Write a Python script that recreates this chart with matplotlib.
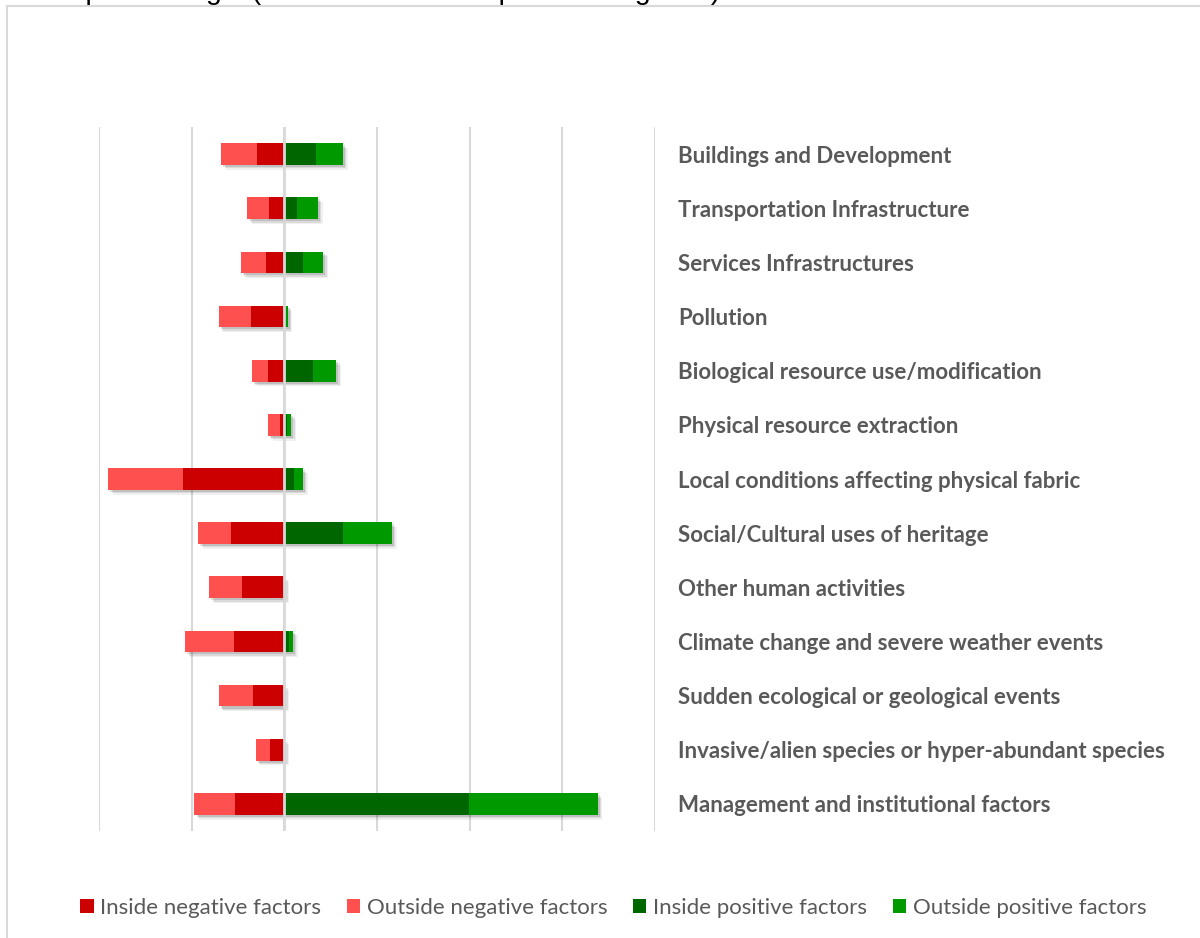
import matplotlib
matplotlib.use("Agg")
import matplotlib.pyplot as plt
import matplotlib.patheffects as pe
from matplotlib.patches import Patch, Rectangle
import numpy as np

# Threat categories (top to bottom)
categories = [
    "Buildings and Development",
    "Transportation Infrastructure",
    "Services Infrastructures",
    "Pollution",
    "Biological resource use/modification",
    "Physical resource extraction",
    "Local conditions affecting physical fabric",
    "Social/Cultural uses of heritage",
    "Other human activities",
    "Climate change and severe weather events",
    "Sudden ecological or geological events",
    "Invasive/alien species or hyper-abundant species",
    "Management and institutional factors",
]

# Values (one gridline = 10)
inside_neg = [2.9, 1.7, 2.0, 3.6, 1.8, 0.5, 10.9, 5.8, 4.6, 5.4, 3.4, 1.6, 5.3]
outside_neg = [3.9, 2.3, 2.7, 3.5, 1.7, 1.3, 8.1, 3.5, 3.5, 5.3, 3.7, 1.5, 4.4]
inside_pos = [3.4, 1.4, 2.0, 0.15, 3.1, 0.3, 1.0, 6.3, 0, 0.5, 0, 0, 19.9]
outside_pos = [2.9, 2.2, 2.2, 0.2, 2.5, 0.45, 1.0, 5.3, 0, 0.4, 0, 0, 13.9]

series_names = ["Inside negative factors", "Outside negative factors",
                "Inside positive factors", "Outside positive factors"]
colors = ["#CC0000", "#FF5050", "#006600", "#009900"]

text_gray = "#595959"
grid_gray = "#D9D9D9"

fig = plt.figure(figsize=(12, 9.38), dpi=100)
ax = fig.add_axes([99 / 1200, 107 / 938, 556 / 1200, 704 / 938])

y = np.arange(len(categories))
in_neg = -np.array(inside_neg)
out_neg = -np.array(outside_neg)
in_pos = np.array(inside_pos)
out_pos = np.array(outside_pos)

# (width, left) per series
segments = [
    (in_neg, np.zeros(len(y))),
    (out_neg, in_neg),
    (in_pos, np.zeros(len(y))),
    (out_pos, in_pos),
]

# soft drop shadow pass, drawn first so it sits under all segments
shadow = [pe.SimplePatchShadow(offset=(o, -o), shadow_rgbFace="black", alpha=a)
          for o, a in [(3.5, 0.06), (2.5, 0.09), (1.5, 0.12)]]
for w, left in segments:
    ax.barh(y, w, left=left, height=0.4, color="none", zorder=2,
            path_effects=shadow)

for (w, left), c, name in zip(segments, colors, series_names):
    ax.barh(y, w, left=left, height=0.4, color=c, zorder=3, label=name)

# zero axis line sits on top of the bars
ax.axvline(0, color=grid_gray, lw=2, zorder=4)

ax.set_xlim(-20, 40)
ax.set_ylim(len(categories) - 0.5, -0.5)
ax.set_xticks(np.arange(-20, 41, 10))
ax.set_xticklabels([])
ax.tick_params(axis="x", length=0)
ax.grid(axis="x", color=grid_gray, lw=1.5, zorder=0)
ax.set_axisbelow(True)

ax.yaxis.tick_right()
ax.set_yticks(y)
ax.set_yticklabels(categories, fontfamily="Lato", fontweight="bold",
                   fontsize=16, color=text_gray)
ax.tick_params(axis="y", length=0, pad=16.5)

for s in ax.spines.values():
    s.set_visible(False)

handles = [Patch(facecolor=c, edgecolor="none") for c in colors]
fig.legend(handles, series_names, loc="center", bbox_to_anchor=(0.511, 1 - 908 / 938),
           ncol=4, frameon=False, handlelength=0.6, handleheight=0.6,
           handletextpad=0.3, columnspacing=1.15,
           prop={"family": "Lato", "size": 16}, labelcolor=text_gray)

# chart title, mostly cut off by the top of the image
fig.text(49 / 1200, 1 + 1.5 / 938, "Reported origin (inside/outside and positive/negative)",
         fontfamily="Liberation Sans", fontsize=20.5, va="baseline", ha="left",
         color="black")

# outer chart frame
fig.patches.append(Rectangle((7 / 1200, -0.05), 1.2, 1.05 - 6 / 938,
                             transform=fig.transFigure, fill=False,
                             edgecolor=grid_gray, lw=1.5))

fig.savefig("out.png", dpi=100)
